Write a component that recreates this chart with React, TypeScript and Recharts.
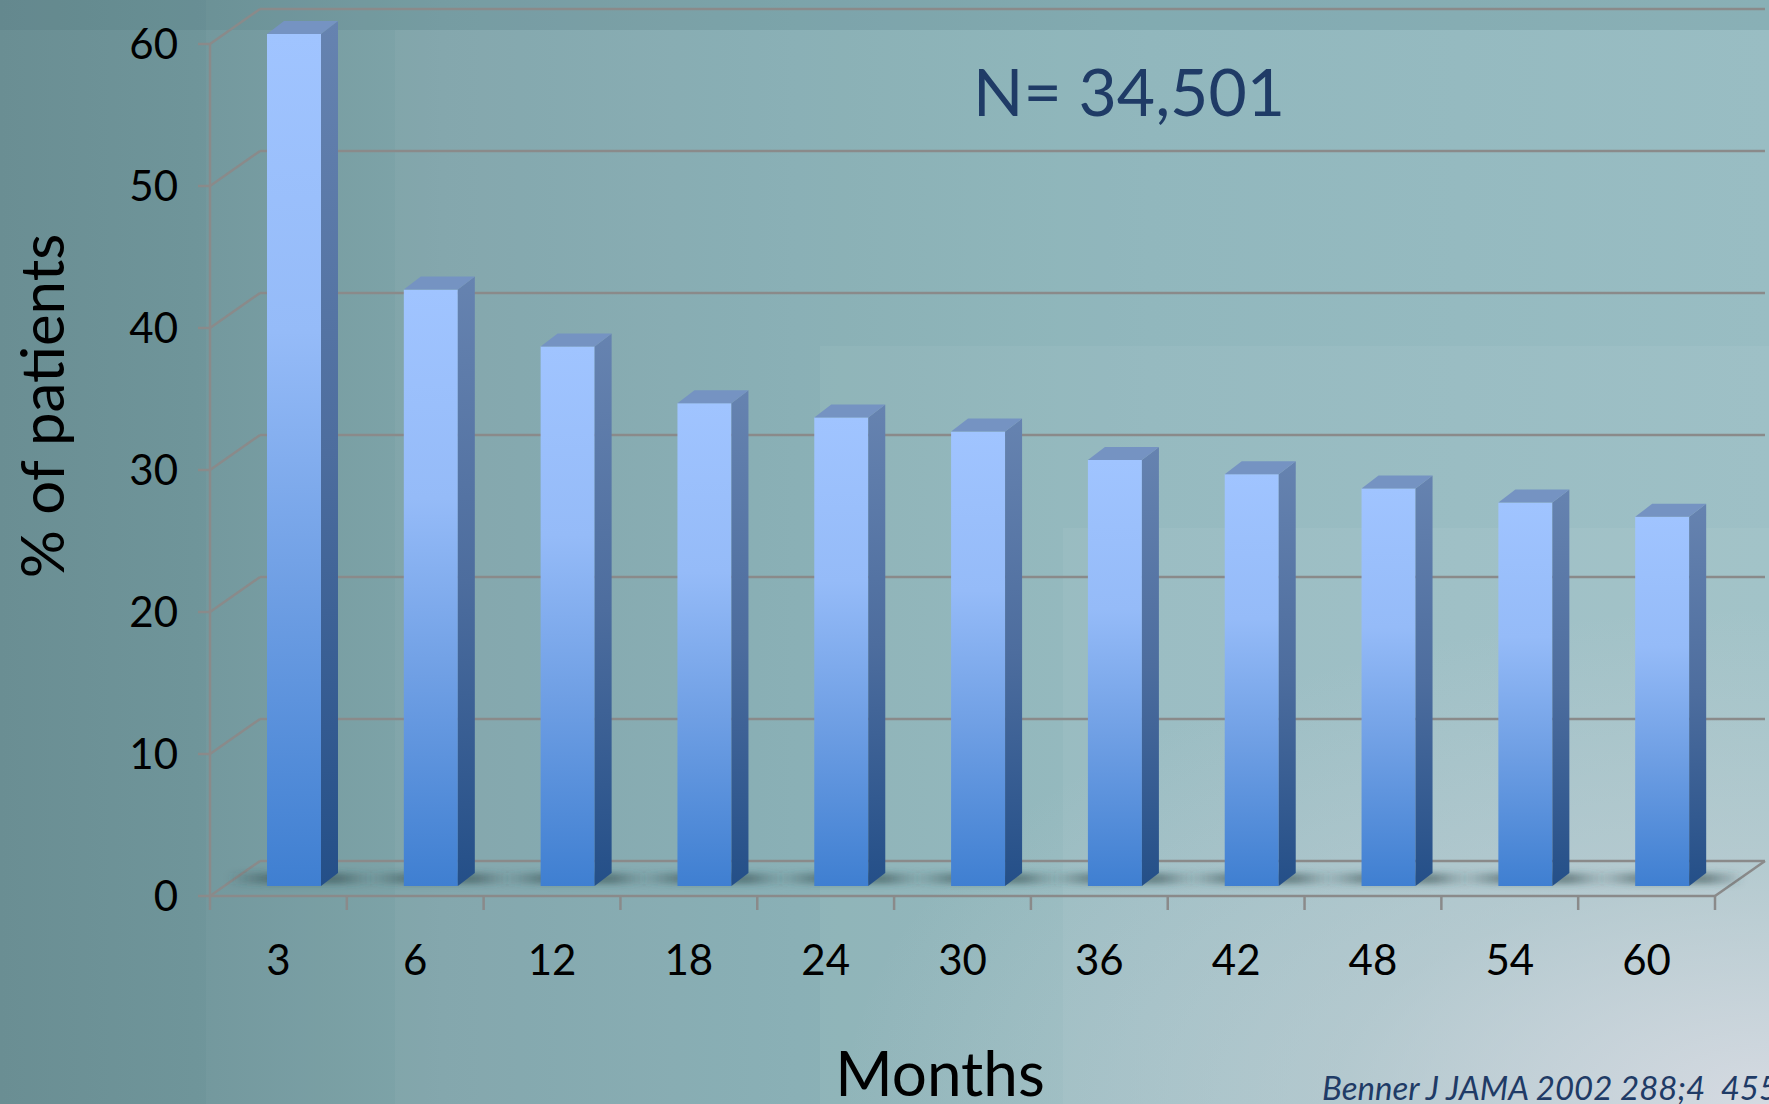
import { Bar, BarChart, CartesianGrid, XAxis, YAxis } from "recharts"

const months = ["3", "6", "12", "18", "24", "30", "36", "42", "48", "54", "60"]
const percentPatients = [60, 42, 38, 34, 33, 32, 30, 29, 28, 27, 26]
const yTicks = [0, 10, 20, 30, 40, 50, 60]

const data = months.map((month, i) => ({ month, value: percentPatients[i] }))

const W = 1769
const H = 1104
const MARGIN = { top: 44, right: 54, left: 130, bottom: 148 }
const Y_AXIS_W = 80
const X_AXIS_H = 60
const PLOT_LEFT = MARGIN.left + Y_AXIS_W
const PLOT_W = W - PLOT_LEFT - MARGIN.right
const PLOT_BOTTOM = H - MARGIN.bottom - X_AXIS_H

// 3D box depth (back wall offset) and bar depth
const DX = 50
const DY = 35
const BAR_DX = 17
const BAR_DY = 13
const BAR_SHIFT_X = 16
const BAR_SHIFT_Y = 10
const GRID = "#8a8a8a"
const FONT = "Lato, 'Open Sans', sans-serif"

// gridlines live on the back wall, joined to the front axis by a diagonal
const WallLine = (props: any) => {
  const { x1, y1, x2 } = props
  const isFloor = Math.abs(y1 - PLOT_BOTTOM) < 1
  return (
    <g key={`wall-${y1}`}>
      <line x1={x1} y1={y1} x2={x1 + DX} y2={y1 - DY} stroke={GRID} strokeWidth={2.5} />
      <line x1={x1 + DX} y1={y1 - DY} x2={x2 + DX} y2={y1 - DY} stroke={GRID} strokeWidth={2.5} />
      {isFloor && (
        <line x1={x2} y1={y1} x2={x2 + DX} y2={y1 - DY} stroke={GRID} strokeWidth={2.5} />
      )}
    </g>
  )
}

const MonthTick = (props: any) => {
  const { x, payload, index } = props
  const band = PLOT_W / months.length
  const left = x - band / 2
  return (
    <g>
      <line x1={left} y1={PLOT_BOTTOM} x2={left} y2={PLOT_BOTTOM + 14} stroke={GRID} strokeWidth={2.5} />
      {index === months.length - 1 && (
        <line x1={left + band} y1={PLOT_BOTTOM} x2={left + band} y2={PLOT_BOTTOM + 14} stroke={GRID} strokeWidth={2.5} />
      )}
      <text x={x} y={PLOT_BOTTOM + 79} textAnchor="middle" fontSize={42} fontFamily={FONT} fill="#000">
        {payload.value}
      </text>
    </g>
  )
}

const Bar3D = (props: any) => {
  const { x, y, width, height, index } = props
  const fx = x + BAR_SHIFT_X
  const fy = y - BAR_SHIFT_Y
  const base = fy + height
  const top = `${fx},${fy} ${fx + BAR_DX},${fy - BAR_DY} ${fx + width + BAR_DX},${fy - BAR_DY} ${fx + width},${fy}`
  const side = `${fx + width},${fy} ${fx + width + BAR_DX},${fy - BAR_DY} ${fx + width + BAR_DX},${base - BAR_DY} ${fx + width},${base}`
  return (
    <g key={`bar3d-${index}`}>
      <rect
        x={fx - 40}
        y={base - 13}
        width={width + 95}
        height={11}
        fill="url(#floorShadow)"
        filter="url(#blur)"
      />
      <rect x={fx} y={fy} width={width} height={height} fill="url(#frontFace)" />
      <polygon points={side} fill="url(#sideFace)" />
      <polygon points={top} fill="#7593c2" />
    </g>
  )
}

export default function App() {
  return (
    <div
      style={{
        position: "absolute",
        left: 0,
        top: 0,
        width: W,
        height: H,
        overflow: "hidden",
        background:
          "linear-gradient(90deg, #6a8e93 0%, #6f959a 11%, #7ba2a8 25%, #83abb1 45%, #8ab3b9 65%, #92b9bf 100%)",
      }}
    >
      {/* lighter slide panels */}
      <div style={{ position: "absolute", left: 206, top: 0, right: 0, bottom: 0, background: "rgba(255,255,255,0.03)" }} />
      <div style={{ position: "absolute", left: 395, top: 30, right: 0, bottom: 0, background: "rgba(255,255,255,0.04)" }} />
      <div style={{ position: "absolute", left: 820, top: 346, right: 0, bottom: 0, background: "rgba(255,255,255,0.05)" }} />
      <div style={{ position: "absolute", left: 1063, top: 528, right: 0, bottom: 0, background: "rgba(255,255,255,0.05)" }} />
      <div
        style={{
          position: "absolute",
          inset: 0,
          background:
            "radial-gradient(ellipse 70% 60% at 100% 100%, rgba(222,222,230,0.85) 0%, rgba(205,212,218,0.45) 35%, rgba(200,210,215,0) 75%)",
        }}
      />
      <div style={{ position: "absolute", left: 0, top: 0, right: 0, height: 30, background: "rgba(60,100,105,0.12)" }} />

      <div style={{ position: "absolute", left: 0, top: 0 }}>
        <BarChart width={W} height={H} data={data} margin={MARGIN} barSize={54}>
          <defs>
            <linearGradient id="frontFace" x1="0" y1="0" x2="0" y2="1">
              <stop offset="0%" stopColor="#a0c4ff" />
              <stop offset="35%" stopColor="#95bbf8" />
              <stop offset="65%" stopColor="#6f9fe4" />
              <stop offset="100%" stopColor="#3f7fd1" />
            </linearGradient>
            <linearGradient id="sideFace" x1="0" y1="0" x2="0" y2="1">
              <stop offset="0%" stopColor="#6683b0" />
              <stop offset="50%" stopColor="#4d6d9e" />
              <stop offset="100%" stopColor="#244f88" />
            </linearGradient>
            <linearGradient id="floorShadow" x1="0" y1="0" x2="1" y2="0">
              <stop offset="0%" stopColor="#2c4648" stopOpacity={0} />
              <stop offset="30%" stopColor="#2c4648" stopOpacity={0.5} />
              <stop offset="75%" stopColor="#2c4648" stopOpacity={0.5} />
              <stop offset="100%" stopColor="#2c4648" stopOpacity={0} />
            </linearGradient>
            <filter id="blur" x="-20%" y="-100%" width="140%" height="300%">
              <feGaussianBlur stdDeviation="3" />
            </filter>
          </defs>
          <CartesianGrid vertical={false} horizontal={WallLine} />
          <XAxis
            dataKey="month"
            height={X_AXIS_H}
            axisLine={{ stroke: GRID, strokeWidth: 2.5 }}
            tickLine={false}
            tick={MonthTick}
            interval={0}
          />
          <YAxis
            width={Y_AXIS_W}
            domain={[0, 60]}
            ticks={yTicks}
            interval={0}
            axisLine={{ stroke: GRID, strokeWidth: 2.5 }}
            tickLine={{ stroke: GRID, strokeWidth: 2.5 }}
            tickSize={12}
            tickMargin={20}
            tick={{ fontSize: 42, fontFamily: FONT, fill: "#000" }}
          />
          <Bar dataKey="value" shape={Bar3D} isAnimationActive={false} />
        </BarChart>
      </div>

      <svg width={W} height={H} style={{ position: "absolute", left: 0, top: 0, pointerEvents: "none" }}>
        <text x={1129} y={116} textAnchor="middle" fontSize={66} fontFamily={FONT} fill="#1f3b66">
          N= 34,501
        </text>
        <text
          transform="translate(64, 406) rotate(-90)"
          textAnchor="middle"
          fontSize={60}
          fontFamily={FONT}
          fill="#000"
        >
          % of patients
        </text>
        <text x={940} y={1096} textAnchor="middle" fontSize={62} fontFamily={FONT} fill="#000">
          Months
        </text>
        <text
          x={1322}
          y={1100}
          fontSize={33}
          fontStyle="italic"
          fontFamily={FONT}
          fill="#1f3b66"
          style={{ whiteSpace: "pre" }}
        >
          {"Benner J JAMA 2002 288;4  455-461"}
        </text>
      </svg>
    </div>
  )
}
